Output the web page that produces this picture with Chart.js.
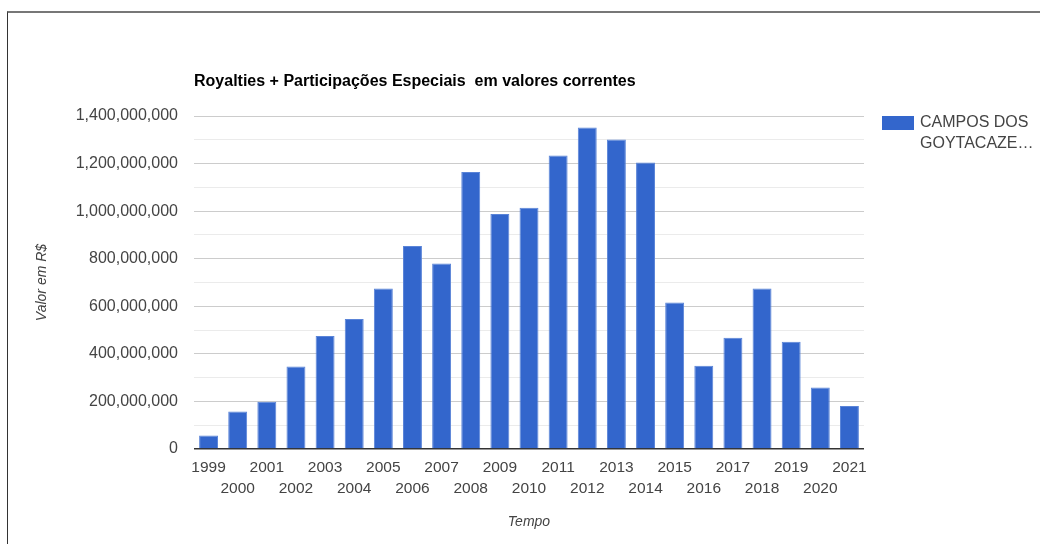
<!DOCTYPE html>
<html>
<head>
<meta charset="utf-8">
<script src="https://cdn.jsdelivr.net/npm/chart.js@4.4.0/dist/chart.umd.min.js"></script>
<style>
  html, body { margin: 0; padding: 0; background: #fff; }
  #wrap { position: relative; width: 1040px; height: 544px; overflow: hidden; }
  #frame { position: absolute; left: 7px; top: 11px; width: 1100px; height: 600px;
           border-top: 2px solid #777; border-left: 1px solid #333; }
  #chart { position: absolute; left: 0; top: 0; }
</style>
</head>
<body>
<div id="wrap">
  <div id="frame"></div>
  <canvas id="chart" width="1040" height="544"></canvas>
</div>
<script>
const anos = ['1999', '2000', '2001', '2002', '2003', '2004', '2005', '2006', '2007', '2008',
    '2009', '2010', '2011', '2012', '2013', '2014', '2015', '2016', '2017', '2018',
    '2019', '2020', '2021'];

// Royalties + PE, Campos dos Goytacazes (R$ correntes)
const valores = [57000000, 158000000, 199000000, 347000000, 475000000, 547000000, 675000000,
    853000000, 780000000, 1165000000, 988000000, 1014000000, 1234000000, 1352000000,
    1301000000, 1205000000, 616000000, 350000000, 468000000, 675000000, 451000000,
    259000000, 181000000];

const titulo = 'Royalties + Participações Especiais  em valores correntes';
const serie = 'CAMPOS DOS GOYTACAZES';
const legendaLinhas = ['CAMPOS DOS', 'GOYTACAZE\u2026'];

const fonte = '"Liberation Sans", Arial, sans-serif';

// titulo e legenda desenhados a mao, no estilo do google charts
const extras = {
    id: 'extras',
    afterDraw(chart) {
        const ctx = chart.ctx;
        const area = chart.chartArea;
        ctx.save();
        ctx.fillStyle = '#000';
        ctx.font = 'bold 16px ' + fonte;
        ctx.textAlign = 'left';
        ctx.textBaseline = 'middle';
        ctx.fillText(titulo, area.left, 82);

        ctx.fillStyle = '#3366cc';
        ctx.fillRect(882, 116, 32, 14);
        ctx.fillStyle = '#444';
        ctx.font = '16px ' + fonte;
        legendaLinhas.forEach((l, i) => ctx.fillText(l, 920, 123 + i * 21));
        ctx.restore();
    }
};

const config = {
    type: 'bar',
    data: {
        labels: anos,
        datasets: [{
            label: serie,
            data: valores,
            backgroundColor: '#3366cc',
            borderColor: '#5a84d8',
            borderWidth: { top: 1, left: 1, right: 1, bottom: 0 },
            barPercentage: 0.65,
            categoryPercentage: 1
        }]
    },
    options: {
        responsive: false,
        animation: false,
        layout: { padding: { left: 34, top: 116, right: 176, bottom: 13 } },
        plugins: {
            legend: { display: false },
            tooltip: { enabled: false }
        },
        scales: {
            x: {
                grid: { display: false },
                border: { display: false },
                ticks: {
                    autoSkip: false,
                    maxRotation: 0,
                    padding: 1,
                    color: '#444',
                    font: { family: fonte, size: 15.5, lineHeight: 1.3 },
                    callback: function (v, i) {
                        const a = this.getLabelForValue(v);
                        return i % 2 === 0 ? a : ['', a];
                    }
                },
                title: {
                    display: true,
                    text: 'Tempo',
                    color: '#444',
                    padding: 0,
                    font: { family: fonte, size: 14, style: 'italic' }
                },
                afterFit: (s) => { s.height = 82; }
            },
            y: {
                min: 0,
                max: 1400000000,
                border: { display: false },
                grid: {
                    drawTicks: false,
                    color: (c) => c.tick.value === 0 ? '#333'
                        : (c.tick.value % 200000000 === 0 ? '#cccccc' : '#ebebeb'),
                    lineWidth: (c) => c.tick.value === 0 ? 1.5 : 1
                },
                ticks: {
                    stepSize: 100000000,
                    padding: 16,
                    color: '#444',
                    font: { family: fonte, size: 16 },
                    callback: (v) => v % 200000000 === 0 ? v.toLocaleString('en-US') : ''
                },
                title: {
                    display: true,
                    text: 'Valor em R$',
                    color: '#444',
                    padding: 0,
                    font: { family: fonte, size: 14, style: 'italic' }
                },
                afterFit: (s) => { s.width = 160; }
            }
        }
    },
    plugins: [extras]
};

new Chart(document.getElementById('chart'), config);
</script>
</body>
</html>
